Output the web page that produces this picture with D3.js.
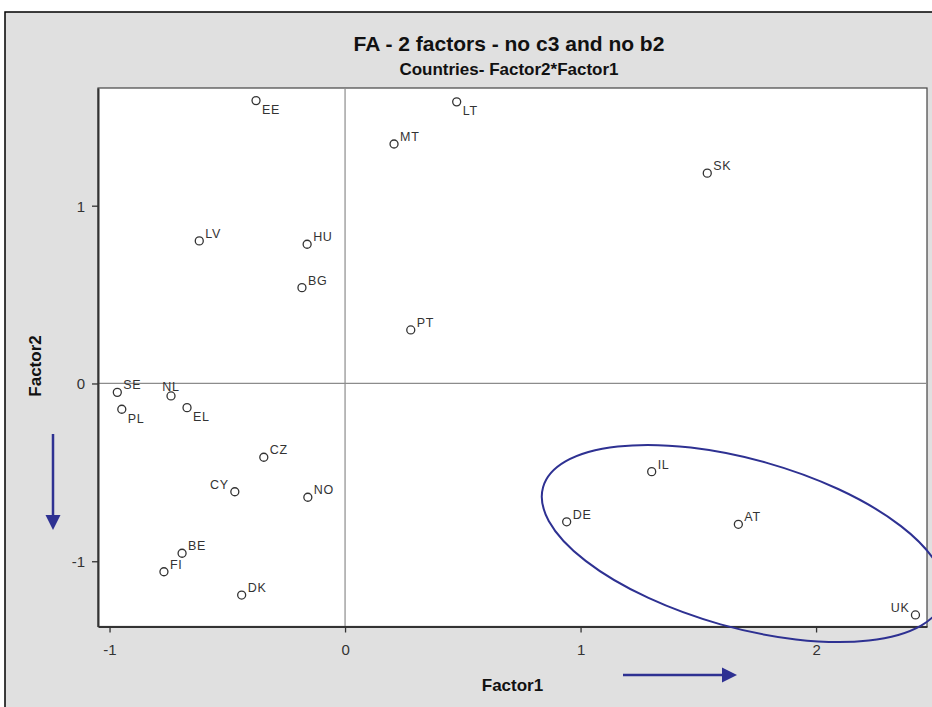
<!DOCTYPE html>
<html>
<head>
<meta charset="utf-8">
<script src="https://cdn.jsdelivr.net/npm/d3@7"></script>
<style>
  html, body { margin: 0; padding: 0; background: #ffffff; }
  svg { display: block; }
  text { font-family: "Liberation Sans", Arial, sans-serif; }
</style>
</head>
<body>
<svg id="chart" width="932" height="707"></svg>
<script>
// Factor scores per country
const countries = ["EE","LT","MT","SK","LV","HU","BG","PT","SE","NL","PL","EL",
                   "CZ","CY","NO","IL","DE","AT","BE","FI","DK","UK"];
const factor1 = [-0.378, 0.474, 0.208, 1.538, -0.619, -0.161, -0.183, 0.279, -0.967, -0.739, -0.948, -0.671,
                 -0.345, -0.468, -0.158, 1.302, 0.941, 1.670, -0.692, -0.769, -0.439, 2.422];
const factor2 = [1.591, 1.584, 1.347, 1.183, 0.802, 0.783, 0.539, 0.301, -0.050, -0.070, -0.145, -0.136,
                 -0.415, -0.609, -0.640, -0.496, -0.778, -0.792, -0.955, -1.059, -1.190, -1.302];
const xTicks = [-1, 0, 1, 2];
const yTicks = [-1, 0, 1];

// Highlighted cluster (centre in factor units)
const clusterCentre = [1.691, -0.900];

const rows = countries.map((c, i) => ({ name: c, f1: factor1[i], f2: factor2[i] }));

// Label placement: default is upper right of the marker
const belowRight = new Set(["EE", "LT", "PL", "EL"]);
const upperLeft = new Set(["CY", "UK"]);
const above = new Set(["NL"]);

const svg = d3.select("#chart");
const W = 932, H = 707;
const plot = { left: 98, right: 927, top: 88, bottom: 626.5 };
const accent = "#2e3192";

// Outer frame
svg.append("rect").attr("x", 5).attr("y", 12).attr("width", W + 20).attr("height", H + 20)
  .attr("fill", "#e0e0e0").attr("stroke", "#000").attr("stroke-width", 1.5);

const x = d3.scaleLinear().domain([-1.049, 2.471]).range([plot.left, plot.right]);
const y = d3.scaleLinear().domain([-1.367, 1.662]).range([plot.bottom, plot.top]);

// Plot background
svg.append("rect").attr("x", plot.left).attr("y", plot.top)
  .attr("width", plot.right - plot.left).attr("height", plot.bottom - plot.top)
  .attr("fill", "#ffffff").attr("stroke", "#444").attr("stroke-width", 1.2);

// Reference lines through the origin
svg.append("line").attr("x1", x(0)).attr("x2", x(0)).attr("y1", plot.top).attr("y2", plot.bottom)
  .attr("stroke", "#8c8c8c").attr("stroke-width", 1.2);
svg.append("line").attr("x1", plot.left).attr("x2", plot.right).attr("y1", y(0)).attr("y2", y(0))
  .attr("stroke", "#8c8c8c").attr("stroke-width", 1.2);

// Axes (plain hyphen for negative tick labels)
const fmt = d => String(d);
const xAxis = svg.append("g").attr("transform", `translate(0,${plot.bottom})`)
  .call(d3.axisBottom(x).tickValues(xTicks).tickFormat(fmt).tickSize(6).tickSizeOuter(0).tickPadding(8));
const yAxis = svg.append("g").attr("transform", `translate(${plot.left},0)`)
  .call(d3.axisLeft(y).tickValues(yTicks).tickFormat(fmt).tickSize(6).tickSizeOuter(0).tickPadding(7));
[xAxis, yAxis].forEach(g => {
  g.select(".domain").attr("stroke", "#333").attr("stroke-width", 2);
  g.selectAll(".tick line").attr("stroke", "#333").attr("stroke-width", 1.3);
  g.selectAll(".tick text").attr("fill", "#333").style("font-size", "15px")
    .style("font-family", "'Liberation Sans', Arial, sans-serif");
});
xAxis.selectAll(".tick text").attr("dy", "0.95em");
yAxis.selectAll(".tick text").attr("dy", "0.36em");

// Points
svg.append("g").selectAll("circle").data(rows).join("circle")
  .attr("cx", d => x(d.f1)).attr("cy", d => y(d.f2)).attr("r", 4)
  .attr("fill", "none").attr("stroke", "#333").attr("stroke-width", 1.3);

// Point labels
svg.append("g").selectAll("text").data(rows).join("text")
  .text(d => d.name)
  .attr("x", d => {
    const cx = x(d.f1);
    if (upperLeft.has(d.name)) return cx - 6;
    if (above.has(d.name)) return cx;
    return cx + 6;
  })
  .attr("y", d => {
    const cy = y(d.f2);
    if (belowRight.has(d.name)) return cy + 13.5;
    if (above.has(d.name)) return cy - 5;
    return cy - 3;
  })
  .attr("text-anchor", d => upperLeft.has(d.name) ? "end" : (above.has(d.name) ? "middle" : "start"))
  .attr("fill", "#333").style("font-size", "12.5px").style("letter-spacing", "0.7px");

// Cluster ellipse
svg.append("ellipse")
  .attr("transform", `translate(${x(clusterCentre[0])},${y(clusterCentre[1])}) rotate(15.7)`)
  .attr("rx", 208).attr("ry", 84)
  .attr("fill", "none").attr("stroke", accent).attr("stroke-width", 2);

// Titles
svg.append("text").attr("x", 509).attr("y", 51).attr("text-anchor", "middle")
  .style("font-size", "21px").style("font-weight", "bold").attr("fill", "#111")
  .text("FA - 2 factors - no c3 and no b2");
svg.append("text").attr("x", 509).attr("y", 75).attr("text-anchor", "middle")
  .style("font-size", "17px").style("font-weight", "bold").attr("fill", "#111")
  .text("Countries- Factor2*Factor1");

// Axis titles
svg.append("text").attr("x", (plot.left + plot.right) / 2).attr("y", 691).attr("text-anchor", "middle")
  .style("font-size", "17px").style("font-weight", "bold").attr("fill", "#111").text("Factor1");
svg.append("text").attr("transform", "translate(41,366) rotate(-90)").attr("text-anchor", "middle")
  .style("font-size", "17px").style("font-weight", "bold").attr("fill", "#111").text("Factor2");

// Direction arrows
function arrow(x1, y1, x2, y2) {
  const ang = Math.atan2(y2 - y1, x2 - x1);
  const len = 15, half = 7.5;
  const bx = x2 - len * Math.cos(ang), by = y2 - len * Math.sin(ang);
  svg.append("line").attr("x1", x1).attr("y1", y1).attr("x2", bx).attr("y2", by)
    .attr("stroke", accent).attr("stroke-width", 2.5);
  const px = -Math.sin(ang) * half, py = Math.cos(ang) * half;
  svg.append("path")
    .attr("d", `M${x2},${y2}L${bx + px},${by + py}L${bx - px},${by - py}Z`)
    .attr("fill", accent);
}
arrow(623, 675, 737, 675);
arrow(53, 434, 53, 530);
</script>
</body>
</html>
